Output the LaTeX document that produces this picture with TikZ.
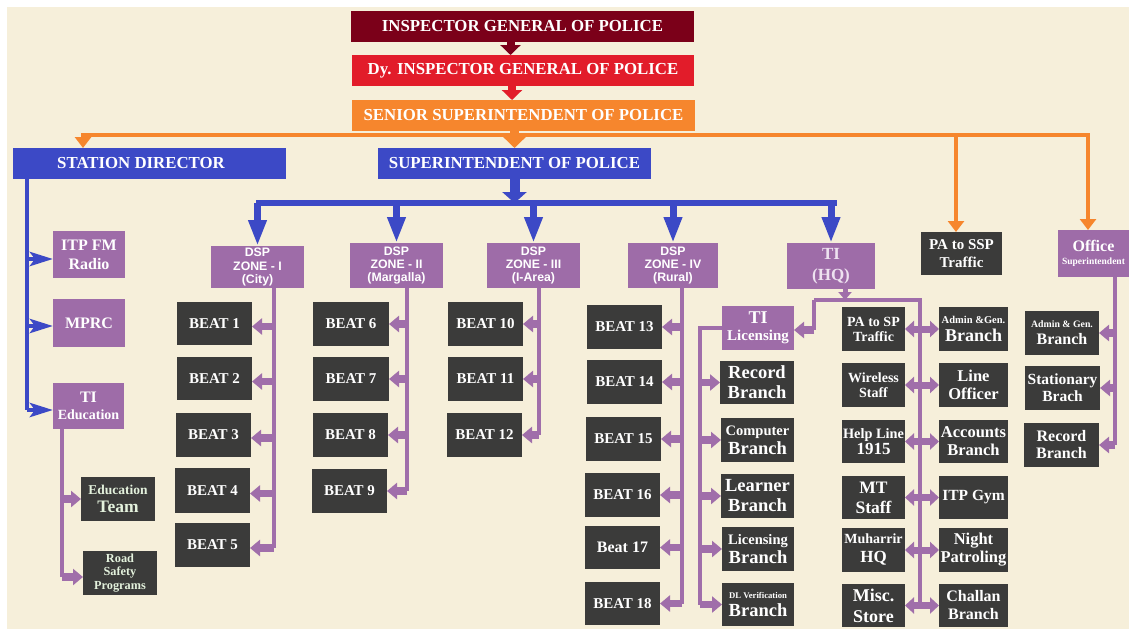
\documentclass[tikz,border=0pt]{standalone}
\usepackage{fontspec}
\setmainfont{Liberation Serif}
\newfontfamily\dspfont{Liberation Sans}
\usetikzlibrary{arrows.meta}
\definecolor{cream}{HTML}{F6EFDA}
\definecolor{igpc}{HTML}{7B0019}
\definecolor{digc}{HTML}{E21C2A}
\definecolor{sspc}{HTML}{F6862D}
\definecolor{bluec}{HTML}{3C49C6}
\definecolor{purpc}{HTML}{9E6CA8}
\definecolor{plinec}{HTML}{A06EAA}
\definecolor{darkc}{HTML}{3B3B3A}
\definecolor{mint}{HTML}{E4F2DD}
\definecolor{lav}{HTML}{EEE2F0}
\newcommand\myfs[2]{\fontsize{#1}{#2}\selectfont}
\newcommand\bx[7]{%
  \pgfmathsetmacro\bxw{#5-#3}\pgfmathsetmacro\bxh{#6-#4}%
  \pgfmathsetmacro\bxx{(#3+#5)/2}\pgfmathsetmacro\bxy{(#4+#6)/2}%
  \node[#1, minimum width=\bxw pt, minimum height=\bxh pt] (#2) at (\bxx,\bxy) {#7};}
\tikzset{
  box/.style={inner sep=0pt, outer sep=0pt, align=center, text=white, font=\bfseries},
  tbox/.style={box, font=\bfseries\myfs{16.8}{18}},
  pbox/.style={box, fill=purpc},
  dbox/.style={box, fill=darkc},
  zbox/.style={pbox, font=\dspfont\bfseries\myfs{12.3}{13.3}},
  beatbox/.style={dbox, font=\bfseries\myfs{15}{17}},
  fatarr/.style={line width=8pt, -{Triangle[width=20pt,length=10pt]}},
  oline/.style={draw=sspc, line width=4pt, line cap=rect},
  oarr/.style={color=sspc, line width=4pt, -{Triangle[width=16pt,length=11pt]}},
  bline/.style={draw=bluec, line width=6.5pt, line cap=rect},
  barr/.style={color=bluec, line width=7pt, -{Triangle[width=17pt,length=26pt]}},
  bigbarr/.style={color=bluec, line width=10pt, -{Triangle[width=24pt,length=11pt]}},
  sdline/.style={draw=bluec, line width=4.5pt},
  sdarr/.style={color=bluec, line width=4.5pt, -{Stealth[width=14pt,length=23pt,inset=5pt]}},
  pline/.style={draw=plinec, line width=4pt},
  parr/.style={color=plinec, line width=7.5pt, -{Triangle[width=16pt,length=10pt]}},
  parrs/.style={color=plinec, line width=5pt, -{Triangle[width=13pt,length=8pt]}},
  pdbl/.style={color=plinec, line width=7pt, {Triangle[width=16pt,length=9pt]}-{Triangle[width=16pt,length=9pt]}}
}
\begin{document}
\begin{tikzpicture}[x=1pt,y=-1pt]
\useasboundingbox (0,0) rectangle (1129,630);
\fill[white] (0,0) rectangle (1129,630);
\fill[cream] (7,7) rectangle (1129,629);

% titles
\bx{tbox,fill=igpc}{igp}{351}{11}{694}{42}{INSPECTOR GENERAL OF POLICE}
\bx{tbox,fill=digc}{dig}{352}{55}{694}{86}{Dy. INSPECTOR GENERAL OF POLICE}
\bx{tbox,fill=sspc}{ssp}{352}{100}{695}{131}{SENIOR SUPERINTENDENT OF POLICE}
\bx{tbox,fill=bluec}{sd}{13}{148}{286}{179}{STATION DIRECTOR\hspace*{17pt}}
\bx{tbox,fill=bluec}{sp}{378}{148}{651}{179}{SUPERINTENDENT OF POLICE}

% second level
\bx{zbox}{z1}{211}{246}{304}{288}{DSP\\ZONE - I\\(City)}
\bx{zbox}{z2}{350}{243}{443}{288}{DSP\\ZONE - II\\(Margalla)}
\bx{zbox}{z3}{487}{243}{580}{288}{DSP\\ZONE - III\\(I-Area)}
\bx{zbox}{z4}{628}{243}{718}{288}{DSP\\ZONE - IV\\(Rural)}
\bx{pbox,text=lav,font=\bfseries\myfs{17}{21}}{hq}{787}{243}{875}{289}{TI\\(HQ)}
\bx{dbox,font=\bfseries\myfs{15}{17.5}}{pa}{921}{232}{1002}{275}{PA to SSP\\Traffic}
\bx{pbox,font=\bfseries\myfs{16}{12.5}}{off}{1058}{230}{1129}{277}{Office\\{\myfs{9.5}{10}Superintendent}}

% left column
\bx{pbox,font=\bfseries\myfs{16}{19}}{itp}{53}{231}{125}{278}{ITP FM\\Radio}
\bx{pbox,font=\bfseries\myfs{16}{19}}{mprc}{53}{299}{125}{347}{MPRC}
\bx{pbox,font=\bfseries\myfs{16}{17}}{tie}{53}{383}{124}{429}{TI\\{\myfs{14}{15}Education}}
\bx{dbox,text=mint,font=\bfseries\myfs{17.5}{18}}{et}{81}{477}{155}{521}{{\myfs{13.5}{14}Education}\\Team}
\bx{dbox,text=mint,font=\bfseries\myfs{12.3}{13.3}}{rs}{83}{551}{157}{595}{Road\\Safety\\Programs}

% beats
\bx{beatbox}{b1}{177}{302}{252}{345}{BEAT 1}
\bx{beatbox}{b2}{177}{357}{252}{400}{BEAT 2}
\bx{beatbox}{b3}{176}{413}{251}{457}{BEAT 3}
\bx{beatbox}{b4}{175}{468}{250}{513}{BEAT 4}
\bx{beatbox}{b5}{175}{523}{250}{567}{BEAT 5}
\bx{beatbox}{b6}{313}{302}{389}{346}{BEAT 6}
\bx{beatbox}{b7}{313}{357}{389}{401}{BEAT 7}
\bx{beatbox}{b8}{313}{413}{388}{457}{BEAT 8}
\bx{beatbox}{b9}{312}{469}{387}{513}{BEAT 9}
\bx{beatbox}{b10}{448}{302}{523}{346}{BEAT 10}
\bx{beatbox}{b11}{448}{357}{523}{401}{BEAT 11}
\bx{beatbox}{b12}{447}{413}{522}{457}{BEAT 12}
\bx{beatbox}{b13}{587}{305}{662}{349}{BEAT 13}
\bx{beatbox}{b14}{587}{360}{662}{404}{BEAT 14}
\bx{beatbox}{b15}{586}{417}{661}{461}{BEAT 15}
\bx{beatbox}{b16}{585}{473}{660}{517}{BEAT 16}
\bx{beatbox,font=\bfseries\myfs{16}{17}}{b17}{585}{526}{660}{569}{Beat 17}
\bx{beatbox}{b18}{585}{582}{660}{625}{BEAT 18}

% TI licensing column
\bx{pbox,font=\bfseries\myfs{18}{17}}{til}{722}{306}{794}{350}{TI\\{\myfs{15}{15}Licensing}}
\bx{dbox,font=\bfseries\myfs{18.5}{20}}{rec}{720}{361}{794}{404}{Record\\Branch}
\bx{dbox,font=\bfseries\myfs{18.5}{19}}{cmp}{721}{418}{794}{462}{{\myfs{14.5}{15}Computer}\\Branch}
\bx{dbox,font=\bfseries\myfs{18.5}{20}}{lrn}{721}{474}{794}{518}{Learner\\Branch}
\bx{dbox,font=\bfseries\myfs{18.5}{19}}{lic}{722}{527}{794}{571}{{\myfs{14.5}{15}Licensing}\\Branch}
\bx{dbox,font=\bfseries\myfs{18.5}{18}}{dlv}{722}{583}{794}{626}{{\myfs{8.7}{9}DL Verification}\\Branch}

% TI HQ columns
\bx{dbox,font=\bfseries\myfs{14}{15}}{l1}{842}{307}{905}{351}{PA to SP\\Traffic}
\bx{dbox,font=\bfseries\myfs{14}{15.5}}{l2}{842}{363}{905}{407}{Wireless\\Staff}
\bx{dbox,font=\bfseries\myfs{17}{16.5}}{l3}{842}{420}{905}{463}{{\myfs{14.3}{15}Help Line}\\1915}
\bx{dbox,font=\bfseries\myfs{17.5}{20}}{l4}{842}{476}{905}{519}{MT\\Staff}
\bx{dbox,font=\bfseries\myfs{17}{19}}{l5}{842}{528}{905}{572}{{\myfs{14}{15}Muharrir}\\HQ}
\bx{dbox,font=\bfseries\myfs{18}{21}}{l6}{842}{584}{905}{627}{Misc.\\Store}
\bx{dbox,font=\bfseries\myfs{18}{18}}{r1}{939}{307}{1008}{351}{{\myfs{10.5}{11}Admin \&Gen.}\\Branch}
\bx{dbox,font=\bfseries\myfs{16.5}{18}}{r2}{939}{363}{1008}{407}{Line\\Officer}
\bx{dbox,font=\bfseries\myfs{16.5}{18}}{r3}{939}{420}{1008}{463}{Accounts\\Branch}
\bx{dbox,font=\bfseries\myfs{15.5}{18}}{r4}{939}{476}{1008}{519}{ITP Gym}
\bx{dbox,font=\bfseries\myfs{16.5}{18}}{r5}{939}{528}{1008}{572}{Night\\Patroling}
\bx{dbox,font=\bfseries\myfs{16}{18}}{r6}{939}{584}{1008}{627}{Challan\\Branch}

% office children
\bx{dbox,font=\bfseries\myfs{16}{17}}{o1}{1025}{311}{1099}{355}{{\myfs{9.8}{10}Admin \& Gen.}\\Branch}
\bx{dbox,font=\bfseries\myfs{15.5}{17}}{o2}{1025}{366}{1100}{410}{Stationary\\Brach}
\bx{dbox,font=\bfseries\myfs{16}{17}}{o3}{1024}{423}{1099}{467}{Record\\Branch}

% top connectors
\draw[fatarr,color=igpc] ([xshift=-12pt]igp.south) -- ([xshift=-12pt]igp.south |- dig.north);
\draw[fatarr,color=digc] ([xshift=-11pt]dig.south) -- ([xshift=-11pt]dig.south |- ssp.north);
\coordinate (oL) at (83,135);
\coordinate (oP) at (956,135);
\coordinate (oR) at (1088,135);
\draw[oline] (oL) -- (oR);
\draw[oarr] (oL) -- (oL |- sd.north);
\draw[oarr] (oP) -- (oP |- pa.north);
\draw[oarr] (oR) -- (oR |- off.north);
\draw[color=sspc, line width=9pt, -{Triangle[width=22pt,length=11pt]}] (sp.north |- ssp.south) -- (sp.north);

% blue connectors
\coordinate (barL) at (259,203);
\coordinate (barR) at (834,203);
\draw[bline] (barL) -- (barR);
\draw[bigbarr] (sp.south) -- (sp.south |- barL);
\foreach \z in {z1,z2,z3,z4,hq} \draw[barr] (\z.north |- barL) -- (\z.north);
\coordinate (sdt) at ([xshift=-122.5pt]sd.south);
\draw[sdline] (sdt) -- ([yshift=-4pt]sdt |- tie.west);
\draw[sdarr] ([yshift=-4.5pt]sdt |- itp.west) -- ([yshift=-4.5pt]itp.west);
\draw[sdarr] ([yshift=-3pt]sdt |- mprc.west) -- ([yshift=-3pt]mprc.west);
\draw[sdarr] ([yshift=-4pt]sdt |- tie.west) -- ([yshift=-4pt]tie.west);

% purple connectors: zone beats
\coordinate (v1) at ([xshift=16pt]z1.south);
\draw[pline] (v1) -- ([yshift=-3pt]v1 |- b5.east);
\foreach \b in {b1,b2,b3,b4,b5} \draw[parr] ([yshift=-3pt]v1 |- \b.east) -- ([yshift=-3pt]\b.east);
\coordinate (v2) at ([xshift=10.5pt]z2.south);
\draw[pline] (v2) -- (v2 |- b9.east);
\foreach \b in {b6,b7,b8,b9} \draw[parr] (v2 |- \b.east) -- (\b.east);
\coordinate (v3) at ([xshift=5pt]z3.south);
\draw[pline] (v3) -- (v3 |- b12.east);
\foreach \b in {b10,b11,b12} \draw[parr] (v3 |- \b.east) -- (\b.east);
\coordinate (v4) at ([xshift=9pt]z4.south);
\draw[pline] (v4) -- (v4 |- b18.east);
\foreach \b in {b13,b14,b15,b16,b17,b18} \draw[parr] (v4 |- \b.east) -- (\b.east);

% TI education
\coordinate (ve) at ([xshift=-26.5pt]tie.south);
\draw[pline] (ve) -- ([yshift=-4pt]ve |- rs.west);
\draw[parr] (ve |- et.west) -- (et.west);
\draw[parr] ([yshift=-4pt]ve |- rs.west) -- ([yshift=-4pt]rs.west);

% TI HQ
\coordinate (hqL) at (814,300);
\coordinate (hqR) at (920,300);
\draw[parrs] ([xshift=14pt]hq.south) -- ([xshift=14pt]hq.south |- hqL);
\draw[pline] (hqL) -- (hqR) -- (hqR |- l6.east);
\draw[pline] (hqL) -- ([yshift=-2pt]hqL |- til.east);
\draw[parr] ([yshift=-2pt]hqL |- til.east) -- ([yshift=-2pt]til.east);
\foreach \i in {1,...,6} \draw[pdbl] (l\i.east) -- (r\i.west);

% TI licensing branches
\coordinate (tilc) at ([xshift=-22pt]til.west);
\draw[pline] (til.west) -- (tilc) -- (tilc |- dlv.west);
\foreach \b in {rec,cmp,lrn,lic,dlv} \draw[parr] (tilc |- \b.west) -- (\b.west);

% office branches
\coordinate (vo) at ([xshift=21.5pt]off.south);
\draw[pline] (vo) -- (vo |- o3.east);
\foreach \b in {o1,o2,o3} \draw[parr] (vo |- \b.east) -- (\b.east);
\end{tikzpicture}
\end{document}
